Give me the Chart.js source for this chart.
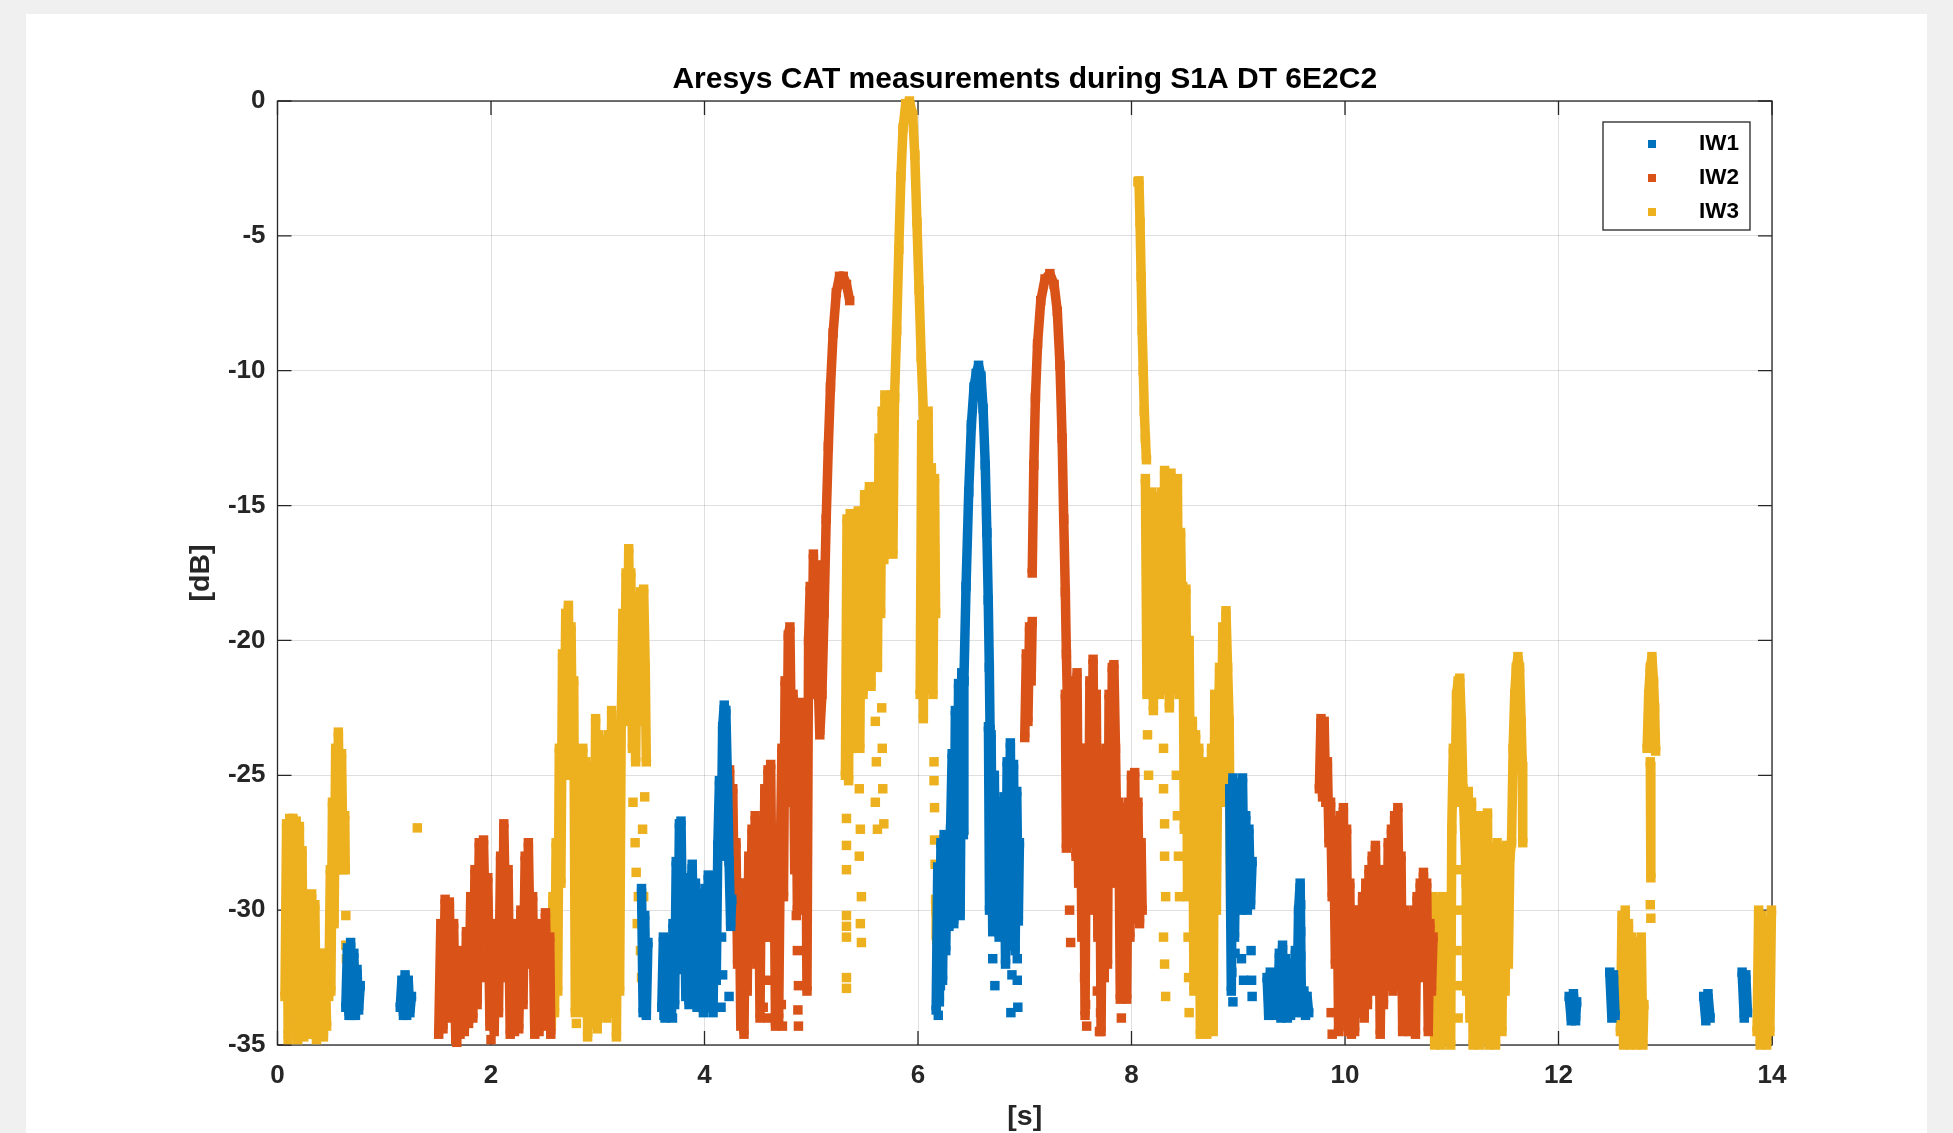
<!DOCTYPE html>
<html>
<head>
<meta charset="utf-8">
<script src="https://cdn.jsdelivr.net/npm/chart.js@4.4.1/dist/chart.umd.min.js"></script>
<style>
  html, body { margin: 0; padding: 0; background: #f0f0f0; overflow: hidden; }
  canvas { display: block; }
</style>
</head>
<body>
<canvas id="cat" width="1953" height="1133"></canvas>
<script>
// series names / colours (MATLAB default order)
const seriesNames = ['IW1', 'IW2', 'IW3'];
const seriesColors = ['#0072BD', '#D95319', '#EDB120'];
const chartTitle = 'Aresys CAT measurements during S1A DT 6E2C2';

// axis ticks
const xTicks = [0, 2, 4, 6, 8, 10, 12, 14];
const yTicks = [0, -5, -10, -15, -20, -25, -30, -35];

// IW1 traces: [time s, level dB], each inner array is one continuous run
const iw1Traces = [
  [[0.64,-33.6],[0.655,-31.4],[0.67,-33.9],[0.685,-31.2],[0.7,-33.8],[0.715,-31.6],[0.73,-33.9],[0.745,-32.2],[0.76,-33.7],[0.775,-32.8]],
  [[1.15,-33.6],[1.165,-32.6],[1.18,-33.9],[1.195,-32.4],[1.21,-33.9],[1.225,-32.6],[1.24,-33.8],[1.255,-33.2]],
  [[3.41,-29.2],[3.425,-33.8],[3.44,-30.2],[3.455,-33.9],[3.47,-31.2]],
  [[3.6,-33.6],[3.615,-31],[3.63,-34],[3.645,-31.2],[3.66,-33.9],[3.675,-31.8],[3.69,-33.8],[3.705,-30.5],[3.72,-33.5],[3.735,-28.2],[3.75,-32.2],[3.765,-26.8],[3.78,-26.7],[3.795,-30.8],[3.81,-28.8],[3.825,-33.2],[3.84,-30.2],[3.855,-33.5],[3.87,-29.5],[3.885,-28.3],[3.9,-32.2],[3.915,-29],[3.93,-33.6],[3.945,-30.4],[3.96,-33.1],[3.975,-31.2],[3.99,-33.8],[4.005,-29.2],[4.02,-33.6],[4.035,-28.7],[4.05,-33],[4.065,-29.8],[4.08,-33.8],[4.095,-29.4],[4.11,-32.6],[4.125,-27.6],[4.14,-25.2],[4.155,-28],[4.17,-23.2],[4.185,-22.4],[4.2,-22.6],[4.215,-25.2],[4.23,-28.2],[4.245,-30.6],[4.255,-29.6]],
  [[6.17,-33.7],[6.185,-28.4],[6.2,-33.4],[6.215,-27.5],[6.23,-32.6],[6.245,-27.2],[6.26,-31.5],[6.275,-27.6],[6.29,-30.6],[6.305,-27],[6.32,-24.2],[6.335,-30.5],[6.35,-22.6],[6.365,-29.6],[6.38,-21.6],[6.395,-30.2],[6.41,-21.2],[6.425,-27.2],[6.43,-21.5]],
  [[6.43,-21.5],[6.45,-18],[6.475,-14.5],[6.5,-12],[6.525,-10.6],[6.545,-10.1],[6.567,-9.8],[6.59,-10.2],[6.61,-11.4],[6.63,-13.5],[6.645,-16],[6.658,-18.5],[6.668,-21],[6.675,-23.3]],
  [[6.66,-23.2],[6.67,-30],[6.685,-23.5],[6.7,-30.8],[6.715,-25],[6.73,-30],[6.745,-26.4],[6.76,-31],[6.775,-27],[6.79,-30.4],[6.805,-25.8],[6.82,-32],[6.835,-24.5],[6.85,-31],[6.865,-23.8],[6.88,-30],[6.895,-24.6],[6.91,-31.5],[6.925,-25.6],[6.94,-30.4],[6.95,-27.5]],
  [[8.92,-25.5],[8.935,-33],[8.95,-25.1],[8.965,-31],[8.98,-26.5],[8.995,-29.6],[9.01,-25.4],[9.025,-30],[9.04,-25.1],[9.055,-29.6],[9.07,-26.5],[9.085,-30],[9.1,-27],[9.115,-29.8],[9.13,-28.2]],
  [[9.27,-32.5],[9.285,-33.9],[9.3,-32.3],[9.315,-33.8],[9.33,-32.8],[9.345,-33.9]],
  [[9.37,-33.8],[9.385,-31.6],[9.4,-34],[9.415,-31.3],[9.43,-33.9],[9.445,-31.8],[9.46,-34],[9.475,-32.5],[9.49,-33.9],[9.505,-32],[9.52,-33.8],[9.535,-31.5],[9.55,-33.5],[9.565,-30],[9.58,-29],[9.59,-32.8],[9.6,-33.8],[9.615,-33],[9.63,-33.9],[9.645,-33.2],[9.66,-33.8]],
  [[12.1,-33.2],[12.12,-34.1],[12.14,-33.1],[12.16,-34.1],[12.17,-33.4]],
  [[12.48,-32.3],[12.5,-34],[12.515,-32.4],[12.53,-33.9]],
  [[13.36,-33.2],[13.38,-34.1],[13.4,-33.1],[13.42,-34]],
  [[13.72,-32.3],[13.74,-34],[13.755,-32.4],[13.77,-33.8]]
];
const iw1Dots = [[0.7,-33.9],[3.43,-31.6],[3.44,-32.6],[3.62,-33.9],[3.7,-34],[4.16,-31],[4.17,-32.4],[4.155,-33.6],[4.23,-33.2],[6.19,-33.9],[6.21,-32.8],[6.22,-31.6],[6.87,-33.8],[6.93,-31.8],[6.93,-32.6],[6.935,-33.6],[6.88,-32.4],[6.7,-31.8],[6.72,-32.8],[8.94,-32.3],[8.95,-33.4],[8.97,-31.6],[9.12,-31.5],[9.125,-32.6],[9.13,-33.2],[9.03,-31.8],[9.05,-32.6],[9.585,-29.8],[9.585,-30.8],[9.585,-31.7]];

// IW2 traces
const iw2Traces = [
  [[1.51,-34.6],[1.53,-30.5],[1.55,-34.4],[1.57,-29.6],[1.59,-33.8],[1.61,-29.7],[1.63,-34],[1.65,-30.5],[1.67,-34.8],[1.69,-32.5],[1.71,-34.6],[1.73,-31.5],[1.75,-34.5],[1.77,-30.8],[1.79,-34.2],[1.81,-29.5],[1.83,-34],[1.85,-28.5],[1.87,-33.5],[1.89,-27.5],[1.91,-32.5],[1.93,-27.4],[1.95,-31.5],[1.97,-28.8],[1.99,-34.3],[2.01,-31.5],[2.03,-34.5],[2.05,-30.5],[2.07,-33.8],[2.09,-28],[2.11,-32.5],[2.12,-26.8],[2.14,-31],[2.16,-28.5],[2.18,-34.6],[2.2,-30.5],[2.22,-34.5],[2.24,-32],[2.26,-34.4],[2.28,-30],[2.3,-33.5],[2.32,-28],[2.34,-31.5],[2.35,-27.5],[2.37,-32],[2.39,-29.5],[2.41,-34.6],[2.43,-31.5],[2.45,-34.5],[2.47,-30.5],[2.49,-34.3],[2.51,-30.1],[2.53,-33.5],[2.55,-31],[2.56,-34.6]],
  [[4.22,-26],[4.235,-24.8],[4.25,-28],[4.265,-25.5],[4.28,-30],[4.295,-27.5],[4.31,-32],[4.325,-29],[4.34,-34.3],[4.355,-30.5],[4.37,-34.6],[4.385,-29],[4.4,-33],[4.415,-28],[4.43,-31.5],[4.445,-27],[4.46,-31],[4.475,-26.5],[4.49,-32],[4.505,-27.5],[4.52,-34],[4.535,-27],[4.55,-31],[4.565,-25.5],[4.58,-30],[4.595,-24.8],[4.61,-29],[4.62,-24.6],[4.635,-31],[4.65,-27],[4.665,-34.3],[4.68,-29],[4.695,-34],[4.71,-28],[4.725,-24],[4.74,-29.5],[4.755,-21.5],[4.77,-26],[4.785,-19.8],[4.8,-19.5],[4.815,-24],[4.83,-22],[4.845,-28.5],[4.86,-25],[4.87,-30],[4.885,-23],[4.9,-28],[4.915,-22.3],[4.93,-29],[4.945,-24],[4.96,-33],[4.975,-20],[4.99,-18],[5.005,-22],[5.02,-16.8],[5.035,-20],[5.05,-17.2],[5.065,-21.5],[5.08,-23.5],[5.1,-22],[5.12,-19],[5.14,-15.5],[5.16,-12.8],[5.18,-10.6],[5.205,-8.6],[5.235,-7.1],[5.265,-6.5],[5.3,-6.5],[5.33,-6.8],[5.36,-7.4]],
  [[7.0,-23.6],[7.015,-20.5],[7.03,-23],[7.045,-19.5],[7.06,-21.5],[7.07,-19.3]],
  [[7.07,-17.5],[7.085,-13.5],[7.1,-11],[7.12,-9],[7.15,-7.4],[7.19,-6.6],[7.235,-6.4],[7.275,-6.8],[7.305,-7.8],[7.33,-9.8],[7.35,-12.5],[7.365,-15.5],[7.38,-18.2],[7.39,-20.5],[7.4,-22.3]],
  [[7.38,-22],[7.39,-27.7],[7.405,-22.5],[7.42,-26.5],[7.435,-24],[7.45,-27.5],[7.465,-21.5],[7.48,-28],[7.49,-21.2],[7.505,-29],[7.52,-24],[7.535,-31],[7.55,-26],[7.565,-33.9],[7.58,-24],[7.595,-30],[7.61,-21.5],[7.625,-28],[7.64,-20.7],[7.655,-27],[7.67,-22],[7.685,-31],[7.7,-25],[7.715,-34.5],[7.73,-27],[7.745,-32.5],[7.76,-24],[7.775,-32],[7.79,-22],[7.805,-29],[7.82,-21],[7.835,-20.9],[7.85,-24],[7.865,-28],[7.88,-26],[7.895,-33.3],[7.91,-28],[7.925,-31],[7.94,-27],[7.955,-33.3],[7.97,-26],[7.985,-31],[8.0,-25],[8.015,-29],[8.03,-24.9],[8.045,-30],[8.06,-26],[8.075,-30.5],[8.09,-27.5],[8.1,-30]],
  [[9.76,-25.5],[9.775,-22.9],[9.79,-25.8],[9.805,-23],[9.82,-26],[9.835,-24.5],[9.85,-27.5],[9.865,-26],[9.88,-29.5],[9.895,-27.5],[9.91,-32],[9.925,-28],[9.94,-34.5],[9.955,-26.5],[9.97,-31],[9.985,-26.2],[10.0,-33],[10.015,-27],[10.03,-34.5],[10.045,-29],[10.06,-34.6],[10.075,-31],[10.09,-34.5],[10.105,-30],[10.12,-33.5],[10.135,-30],[10.15,-32.5],[10.165,-29.5],[10.18,-34],[10.195,-29],[10.21,-33.5],[10.225,-28.5],[10.24,-32],[10.255,-28],[10.27,-33],[10.285,-27.6],[10.3,-31],[10.315,-28.5],[10.33,-34.6],[10.345,-30],[10.36,-33.5],[10.375,-28.5],[10.39,-32.5],[10.405,-27.5],[10.42,-31.5],[10.435,-27],[10.45,-33],[10.465,-26.5],[10.48,-30],[10.495,-26.2],[10.51,-31],[10.525,-28],[10.54,-34.5],[10.555,-30],[10.57,-33.5],[10.585,-31],[10.6,-34.5],[10.615,-30.5],[10.63,-33],[10.645,-30],[10.66,-34.6],[10.675,-29.5],[10.69,-32.5],[10.705,-29],[10.72,-31.5],[10.735,-28.6],[10.75,-32],[10.765,-29],[10.78,-34.5],[10.795,-30.5],[10.81,-33],[10.825,-31]]
];
const iw2Dots = [[4.6,-31],[4.6,-32.6],[4.595,-34],[4.55,-33.6],[4.86,-30.2],[4.87,-31.5],[4.88,-32.8],[4.875,-33.7],[4.88,-34.3],[4.9,-29.2],[4.72,-33.5],[4.73,-34.3],[7.42,-30],[7.43,-31.2],[7.56,-32.5],[7.57,-33.5],[7.58,-34.3],[7.68,-33],[7.7,-34.5],[7.71,-33.8],[7.905,-34],[9.87,-33.8],[9.88,-34.6],[2.0,-34.8],[1.68,-34.9]];

// IW3 traces
const iw3Traces = [
  [[0.07,-33.2],[0.085,-26.8],[0.1,-34.6],[0.115,-26.6],[0.13,-33.8],[0.145,-26.6],[0.16,-34.2],[0.175,-26.7],[0.19,-34.8],[0.205,-26.9],[0.22,-34.5],[0.23,-27.8],[0.245,-34.7],[0.26,-30.8],[0.275,-34.3],[0.29,-29.6],[0.305,-34.6],[0.32,-29.4],[0.335,-34.4],[0.35,-29.8],[0.365,-34.8],[0.385,-31.8],[0.4,-34.5],[0.415,-31.6],[0.43,-34.7],[0.445,-31.6],[0.46,-34.3]],
  [[0.48,-33.2],[0.495,-28.5],[0.5,-33],[0.515,-26],[0.53,-30.5],[0.545,-24],[0.56,-28.5],[0.57,-23.4],[0.585,-27],[0.6,-24.2],[0.615,-28.5],[0.63,-26.5],[0.635,-28.5]],
  [[2.55,-30.3],[2.565,-34.3],[2.58,-29.5],[2.595,-33.8],[2.61,-27.5],[2.625,-33],[2.64,-24],[2.655,-29],[2.67,-20.5],[2.685,-25],[2.7,-19],[2.715,-23],[2.725,-18.7],[2.74,-23.5],[2.75,-19.5],[2.765,-25],[2.775,-21.5],[2.79,-33.8],[2.805,-25.5],[2.82,-31],[2.83,-24.2],[2.845,-31],[2.86,-24],[2.875,-33.8],[2.89,-24.5],[2.905,-34.7],[2.92,-26],[2.935,-32],[2.95,-25],[2.965,-31.5],[2.98,-22.9],[2.995,-34.4],[3.01,-23.5],[3.025,-30],[3.04,-25],[3.055,-33],[3.07,-24],[3.085,-34],[3.1,-23.5],[3.115,-31],[3.13,-22.6],[3.145,-32.5],[3.16,-24],[3.175,-34.7],[3.19,-25.5],[3.205,-33],[3.22,-23],[3.235,-19],[3.25,-23],[3.265,-17.5],[3.28,-21],[3.29,-16.6],[3.3,-20],[3.31,-17.5],[3.32,-22],[3.325,-24]],
  [[3.34,-21],[3.355,-24.5],[3.37,-19],[3.385,-23],[3.4,-18.2],[3.415,-22],[3.43,-18.1],[3.445,-21],[3.455,-24.5]],
  [[5.32,-25],[5.335,-15.5],[5.35,-25.2],[5.365,-15.3],[5.38,-24],[5.395,-16],[5.41,-22],[5.425,-23.5],[5.44,-15.2],[5.455,-24],[5.47,-15.5],[5.485,-22],[5.5,-14.6],[5.515,-21],[5.53,-20],[5.545,-14.3],[5.56,-21.7],[5.575,-14.5],[5.59,-20.5],[5.605,-14.3],[5.62,-21],[5.635,-12.5],[5.65,-19],[5.665,-11.5],[5.68,-17],[5.69,-10.9],[5.705,-16.5],[5.72,-11],[5.735,-15],[5.75,-10.9],[5.765,-16.8],[5.78,-11]],
  [[5.78,-11],[5.8,-8.5],[5.82,-5.5],[5.84,-2.8],[5.86,-1],[5.885,-0.1],[5.92,0],[5.95,-0.5],[5.97,-2],[5.99,-4.5],[6.01,-7],[6.03,-9.5],[6.05,-11.5],[6.06,-13.5],[6.07,-16.8]],
  [[6.02,-22],[6.035,-12],[6.05,-22.9],[6.065,-13],[6.08,-21],[6.095,-11.5],[6.11,-20],[6.125,-13.6],[6.14,-22],[6.155,-14],[6.165,-19]],
  [[6.165,-29.6],[6.175,-31.1],[6.17,-30]],
  [[8.06,-3],[8.07,-2.96],[8.08,-4.5],[8.09,-6.5],[8.1,-8.5],[8.11,-10],[8.12,-11.5],[8.13,-12.5],[8.14,-13.3]],
  [[8.13,-14],[8.145,-22],[8.16,-15],[8.175,-21],[8.19,-14.5],[8.205,-22.6],[8.22,-16],[8.235,-20.5],[8.25,-15],[8.265,-22],[8.28,-14.5],[8.295,-21],[8.31,-13.7],[8.325,-20],[8.34,-14],[8.355,-22.5],[8.37,-13.8],[8.385,-19],[8.4,-15],[8.415,-21],[8.43,-14],[8.445,-22],[8.46,-16],[8.475,-20],[8.48,-18],[8.495,-27],[8.51,-18.1],[8.525,-29.5],[8.54,-20],[8.555,-28],[8.57,-23],[8.585,-33],[8.6,-23.5],[8.615,-30],[8.63,-24],[8.645,-34.6],[8.66,-25],[8.675,-32],[8.69,-24.5],[8.705,-34.6],[8.72,-25.2],[8.735,-33],[8.75,-24],[8.765,-34.5],[8.78,-22],[8.795,-30],[8.81,-24],[8.825,-21],[8.84,-26],[8.855,-19.5],[8.87,-24],[8.885,-18.9],[8.9,-21],[8.915,-23],[8.93,-30.5]],
  [[10.81,-33],[10.825,-29.5],[10.84,-35],[10.855,-29.6],[10.87,-34.5],[10.885,-30],[10.9,-35],[10.915,-29.5],[10.93,-34.8],[10.945,-30.5],[10.96,-34],[10.975,-31],[10.99,-35],[11.0,-27],[11.015,-24],[11.03,-26],[11.045,-22],[11.06,-21.5],[11.075,-21.4],[11.09,-23],[11.105,-25.5],[11.12,-26.9],[11.135,-29],[11.14,-33],[11.155,-25.6],[11.17,-34],[11.185,-26],[11.2,-35],[11.215,-27],[11.23,-33.5],[11.245,-26.5],[11.26,-35],[11.275,-27.5],[11.29,-34],[11.305,-26.5],[11.32,-33],[11.335,-26.4],[11.35,-35],[11.365,-28],[11.38,-33.5],[11.395,-28.5],[11.41,-35],[11.425,-27.5],[11.44,-33],[11.455,-29],[11.47,-34.5],[11.485,-28],[11.5,-33],[11.515,-27.6],[11.53,-32],[11.545,-28],[11.56,-27.5],[11.575,-24],[11.59,-22],[11.605,-21],[11.62,-20.6],[11.635,-21],[11.65,-23],[11.66,-24.5],[11.665,-27.5]],
  [[12.58,-34.5],[12.595,-30.2],[12.61,-35],[12.625,-30],[12.64,-34],[12.655,-30.5],[12.67,-35],[12.685,-31],[12.7,-34.5],[12.715,-31.5],[12.73,-35],[12.745,-32],[12.76,-34],[12.775,-31],[12.79,-35],[12.8,-33.5]],
  [[12.83,-24],[12.845,-22],[12.86,-21],[12.875,-20.6],[12.89,-21.5],[12.9,-22.5],[12.91,-24.1]],
  [[12.86,-24.5],[12.865,-28.8]],
  [[13.86,-34.5],[13.875,-30],[13.89,-35],[13.905,-30.2],[13.92,-34.8],[13.935,-30.5],[13.95,-35],[13.965,-31],[13.98,-34.5],[13.995,-30]]
];
const iw3Dots = [[0.1,-34.8],[0.64,-30.2],[0.64,-31.3],[0.645,-31.8],[1.31,-26.95],[2.8,-34.2],[3.33,-26],[3.35,-27.5],[3.36,-28.6],[3.37,-30.5],[3.38,-29.5],[3.4,-31.5],[3.41,-32.5],[3.42,-27],[3.44,-25.8],[3.45,-33.3],[3.43,-29.5],[5.33,-26.6],[5.33,-27.6],[5.33,-28.5],[5.33,-30.2],[5.33,-30.6],[5.33,-31],[5.33,-32.5],[5.33,-32.9],[5.45,-25.5],[5.46,-27],[5.45,-28],[5.47,-29.5],[5.46,-30.5],[5.47,-31.2],[5.6,-23],[5.61,-24.5],[5.6,-26],[5.62,-27],[5.66,-22.5],[5.665,-24],[5.67,-25.5],[5.68,-26.8],[6.15,-24.5],[6.15,-25.2],[6.155,-26.2],[6.155,-27.4],[6.16,-28.3],[8.3,-24],[8.3,-25.5],[8.31,-26.8],[8.31,-28],[8.32,-29.5],[8.3,-31],[8.31,-32],[8.32,-33.2],[8.15,-23.5],[8.16,-25],[8.42,-25],[8.43,-26.5],[8.44,-28],[8.45,-29.5],[8.53,-31],[8.535,-32.5],[8.54,-33.8],[11.05,-28.5],[11.06,-30],[11.05,-31.5],[11.07,-32.8],[11.06,-34],[12.86,-29.8],[12.865,-30.3]];

// flatten runs into one dataset, a null point between runs breaks the line
function runsToData(runs) {
  const out = [];
  runs.forEach((run, i) => {
    if (i) out.push({ x: run[0][0], y: null });
    run.forEach(p => out.push({ x: p[0], y: p[1] }));
  });
  return out;
}
function dotsToData(dots) {
  return dots.map(p => ({ x: p[0], y: p[1] }));
}

const traces = [iw1Traces, iw2Traces, iw3Traces];
const dots = [iw1Dots, iw2Dots, iw3Dots];
const markR = 6.7; // rect side = markR * sqrt(2)

const datasets = [];
seriesNames.forEach((name, i) => {
  const col = seriesColors[i];
  datasets.push({
    label: name,
    data: runsToData(traces[i]),
    showLine: true,
    spanGaps: false,
    borderColor: col,
    borderWidth: 9.5,
    borderJoinStyle: 'bevel',
    borderCapStyle: 'butt',
    pointStyle: 'rect',
    pointRadius: markR,
    pointBorderWidth: 0,
    pointBackgroundColor: col,
    clip: false
  });
  datasets.push({
    label: name + ' dots',
    data: dotsToData(dots[i]),
    showLine: false,
    pointStyle: 'rect',
    pointRadius: markR,
    pointBorderWidth: 0,
    pointBackgroundColor: col,
    clip: false
  });
});

const axisColor = '#262626';
const fontFamily = '"Liberation Sans", Arial, sans-serif';

// page background, title over the axes, axes box with inward ticks, boxed legend
const matlabLook = {
  id: 'matlabLook',
  beforeDraw(chart) {
    const c = chart.ctx;
    const a = chart.chartArea;
    c.save();
    c.fillStyle = '#f0f0f0';
    c.fillRect(0, 0, chart.width, chart.height);
    c.fillStyle = '#ffffff';
    c.fillRect(26, 14, 1927 - 26, chart.height - 14);
    c.fillStyle = '#000';
    c.font = 'bold 30px ' + fontFamily;
    c.textAlign = 'center';
    c.textBaseline = 'middle';
    c.fillText(chartTitle, (a.left + a.right) / 2, a.top - 21);
    c.restore();
  },
  beforeDatasetsDraw(chart) {
    const { ctx, chartArea: a, scales: { x, y } } = chart;
    ctx.save();
    ctx.strokeStyle = axisColor;
    ctx.lineWidth = 1.3;
    ctx.strokeRect(a.left, a.top, a.right - a.left, a.bottom - a.top);
    ctx.beginPath();
    xTicks.forEach(v => {
      const px = x.getPixelForValue(v);
      ctx.moveTo(px, a.bottom); ctx.lineTo(px, a.bottom - 14);
      ctx.moveTo(px, a.top); ctx.lineTo(px, a.top + 14);
    });
    yTicks.forEach(v => {
      const py = y.getPixelForValue(v);
      ctx.moveTo(a.left, py); ctx.lineTo(a.left + 14, py);
      ctx.moveTo(a.right, py); ctx.lineTo(a.right - 14, py);
    });
    ctx.stroke();
    ctx.restore();
  },
  afterDraw(chart) {
    const { ctx, chartArea: a } = chart;
    const w = 147, h = 108;
    const left = a.right - 22 - w, top = a.top + 21;
    ctx.save();
    ctx.fillStyle = '#ffffff';
    ctx.fillRect(left, top, w, h);
    ctx.strokeStyle = axisColor;
    ctx.lineWidth = 1.3;
    ctx.strokeRect(left, top, w, h);
    ctx.font = 'bold 22.5px ' + fontFamily;
    ctx.textBaseline = 'middle';
    ctx.textAlign = 'left';
    seriesNames.forEach((name, i) => {
      const cy = top + 22 + i * 34;
      ctx.fillStyle = seriesColors[i];
      ctx.fillRect(left + 45, cy - 4, 8, 8);
      ctx.fillStyle = '#000';
      ctx.fillText(name, left + 96, cy);
    });
    ctx.restore();
  }
};

Chart.defaults.font.family = fontFamily;

new Chart(document.getElementById('cat'), {
  type: 'scatter',
  data: { datasets },
  plugins: [matlabLook],
  options: {
    responsive: false,
    devicePixelRatio: 1,
    animation: false,
    events: [],
    layout: { padding: { left: 0, right: 181, top: 101, bottom: 0 } },
    plugins: {
      legend: { display: false },
      tooltip: { enabled: false },
      title: { display: false }
    },
    scales: {
      x: {
        type: 'linear',
        min: 0,
        max: 14,
        afterBuildTicks: s => { s.ticks = xTicks.map(v => ({ value: v })); },
        afterFit: s => { s.height = 1133 - 1045; },
        grid: { color: 'rgba(38,38,38,0.15)', lineWidth: 1, drawTicks: false },
        border: { display: false },
        ticks: { color: axisColor, font: { size: 26, weight: 'bold' }, padding: 15 },
        title: {
          display: true, text: '[s]', color: axisColor,
          font: { size: 28.5, weight: 'bold', lineHeight: 1.1 }, padding: { top: 0, bottom: 0 }
        }
      },
      y: {
        type: 'linear',
        min: -35,
        max: 0,
        afterBuildTicks: s => { s.ticks = yTicks.map(v => ({ value: v })); },
        afterFit: s => { s.width = 277.5; },
        grid: { color: 'rgba(38,38,38,0.15)', lineWidth: 1, drawTicks: false },
        border: { display: false },
        ticks: { color: axisColor, font: { size: 26, weight: 'bold' }, padding: 12 },
        title: {
          display: true, text: '[dB]', color: axisColor,
          font: { size: 28.5, weight: 'bold' }, padding: { top: 184, bottom: 0 }
        }
      }
    }
  }
});
</script>
</body>
</html>
